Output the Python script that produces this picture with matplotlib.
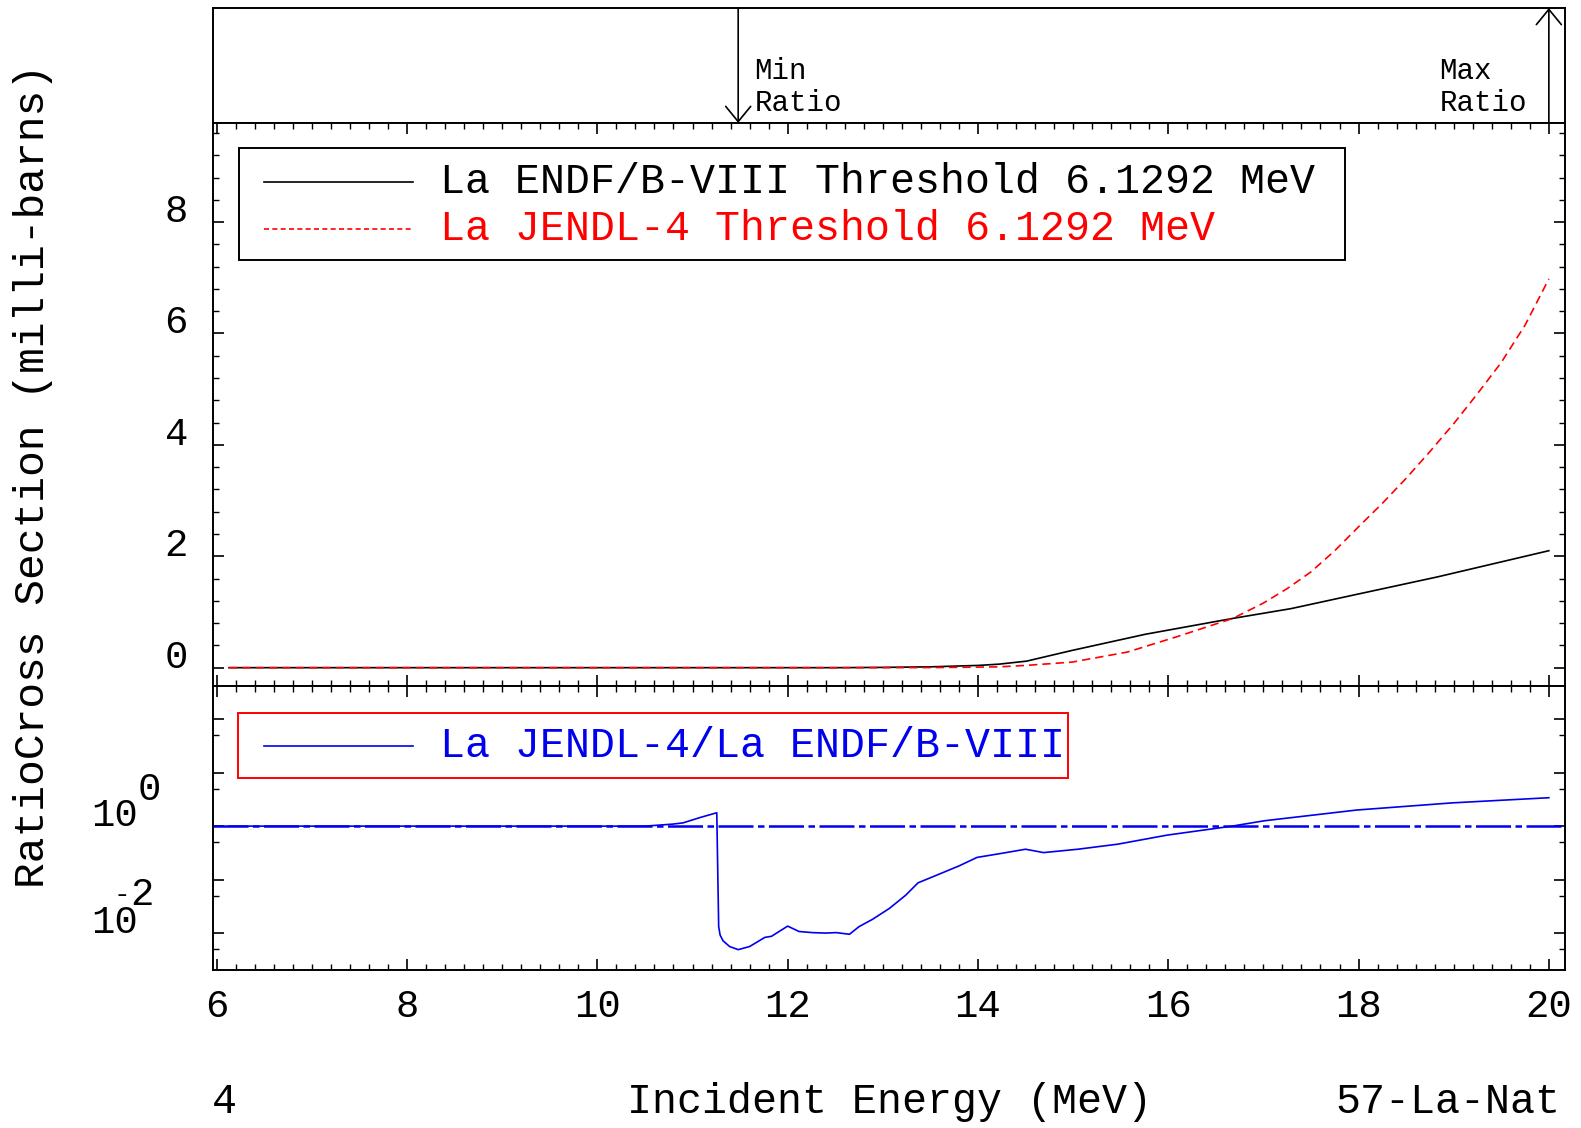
import numpy as np
import matplotlib
matplotlib.use('Agg')
import matplotlib.pyplot as plt
from matplotlib import rcParams
from matplotlib.patches import Rectangle
from matplotlib.lines import Line2D
from matplotlib.ticker import FixedLocator, MultipleLocator, NullFormatter

rcParams['font.family'] = ['Liberation Mono', 'DejaVu Sans Mono']
rcParams['font.size'] = 28
rcParams['axes.linewidth'] = 1.4
rcParams['xtick.direction'] = 'in'
rcParams['ytick.direction'] = 'in'
rcParams['xtick.major.size'] = 8
rcParams['ytick.major.size'] = 8
rcParams['xtick.minor.size'] = 4
rcParams['ytick.minor.size'] = 4
rcParams['xtick.major.width'] = 1.2
rcParams['ytick.major.width'] = 1.2
rcParams['xtick.minor.width'] = 1.0
rcParams['ytick.minor.width'] = 1.0

# ── data ─────────────────────────────────────────────────────────────────
endf_e  = [6.1292, 12.5, 13.0, 13.5, 14.0, 14.22, 14.51, 14.99, 15.76, 16.68,
           17.29, 17.91, 18.83, 20.0]
endf_xs = [0.0, 0.0, 0.005, 0.015, 0.04, 0.063, 0.117, 0.31, 0.60, 0.885,
           1.06, 1.29, 1.63, 2.10]

jendl_e  = [6.1292, 12.5, 13.0, 13.5, 14.0, 14.22, 14.5, 14.99, 15.57, 16.08,
            16.68, 17.0, 17.25, 17.5, 17.75, 18.0, 18.25, 18.5, 18.75, 19.0,
            19.25, 19.5, 19.75, 20.0]
jendl_xs = [0.0, 0.0, 0.0004, 0.0015, 0.01, 0.015, 0.04, 0.10, 0.28, 0.55,
            0.885, 1.16, 1.42, 1.72, 2.10, 2.53, 2.95, 3.40, 3.88, 4.38,
            4.92, 5.48, 6.15, 6.98]

ratio_e = [6.1292, 10.5, 10.79, 10.90, 11.08, 11.255, 11.275, 11.29, 11.32, 11.39,
           11.48, 11.60, 11.76, 11.83, 12.0, 12.12, 12.26, 12.40, 12.51, 12.65,
           12.75, 12.89, 13.07, 13.24, 13.37, 13.59, 13.8, 13.99, 14.25, 14.50,
           14.69, 15.05, 15.47, 15.99, 16.67, 17.01, 17.98, 18.98, 20.0]
ratio_v = [1.0, 1.0, 1.09, 1.15, 1.45, 1.78, 0.0132, 0.0092, 0.0072, 0.0056,
           0.0049, 0.0056, 0.0083, 0.0087, 0.0135, 0.0107, 0.0102, 0.0100, 0.0102, 0.0095,
           0.0132, 0.018, 0.029, 0.051, 0.087, 0.126, 0.18, 0.26, 0.31, 0.37,
           0.32, 0.37, 0.46, 0.68, 1.0, 1.26, 2.0, 2.72, 3.4]

min_ratio_e = 11.48
max_ratio_e = 20.0

xs_ticks    = [0, 2, 4, 6, 8]
e_ticks     = [6, 8, 10, 12, 14, 16, 18, 20]
ratio_major = [1e-3, 1e-2, 1e-1, 1e0, 1e1, 1e2, 1e3]
ratio_minor = [5e-3, 5e-2, 5e-1, 5e0, 5e1, 5e2]

XLIM = (5.96, 20.17)

# ── figure ───────────────────────────────────────────────────────────────
fig = plt.figure(figsize=(15.81, 11.28), dpi=100, facecolor='white')
L, W = 0.1347, 0.8552
ax_top = fig.add_axes([L, 0.8910, W, 0.1019])
ax_xs  = fig.add_axes([L, 0.3918, W, 0.4992])
ax_r   = fig.add_axes([L, 0.1401, W, 0.2517])

# top panel: min / max ratio arrows
ax_top.set_xlim(*XLIM)
ax_top.set_ylim(0, 1)
ax_top.set_xticks([])
ax_top.set_yticks([])
arrow = dict(arrowstyle='->,head_length=0.55,head_width=0.45', lw=1.2,
             color='black', mutation_scale=20, shrinkA=0, shrinkB=0)
ax_top.annotate('', xy=(min_ratio_e, 0.0), xytext=(min_ratio_e, 1.0), arrowprops=arrow)
ax_top.annotate('', xy=(max_ratio_e, 1.0), xytext=(max_ratio_e, 0.0), arrowprops=arrow)
ax_top.text(11.65, 0.456, 'Min', fontsize=21, ha='left', va='center')
ax_top.text(11.65, 0.175, 'Ratio', fontsize=21, ha='left', va='center')
ax_top.text(18.85, 0.456, 'Max', fontsize=21, ha='left', va='center')
ax_top.text(18.85, 0.175, 'Ratio', fontsize=21, ha='left', va='center')

# middle panel: cross sections
ax_xs.plot(endf_e, endf_xs, color='black', lw=1.2)
ax_xs.plot(jendl_e, jendl_xs, color='red', lw=1.2, linestyle=(0, (5, 3)))
ax_xs.set_xlim(*XLIM)
ax_xs.set_ylim(-0.33, 9.78)
ax_xs.set_yticks(xs_ticks)
ax_xs.yaxis.set_minor_locator(MultipleLocator(0.4))
ax_xs.xaxis.set_major_locator(FixedLocator(e_ticks))
ax_xs.xaxis.set_minor_locator(MultipleLocator(0.2))
ax_xs.tick_params(which='both', top=True, right=True, bottom=True, left=True,
                  labelbottom=False)
ax_xs.tick_params(axis='y', pad=18, labelsize=28)
for lab in ax_xs.get_yticklabels():
    lab.set_va('baseline')

# legend box 1
ax_xs.add_patch(Rectangle((0.0192, 0.7567), 0.818, 0.1989, transform=ax_xs.transAxes,
                          fill=False, edgecolor='black', lw=1.4, zorder=5))
ax_xs.add_line(Line2D([0.0377, 0.1479], [0.896, 0.896], transform=ax_xs.transAxes,
                      color='black', lw=1.2))
ax_xs.add_line(Line2D([0.0377, 0.1479], [0.812, 0.812], transform=ax_xs.transAxes,
                      color='red', lw=1.2, linestyle=(0, (3, 2))))
ax_xs.text(0.168, 0.896, 'La ENDF/B-VIII Threshold 6.1292 MeV', transform=ax_xs.transAxes,
           fontsize=30, color='black', ha='left', va='center')
ax_xs.text(0.168, 0.812, 'La JENDL-4 Threshold 6.1292 MeV', transform=ax_xs.transAxes,
           fontsize=30, color='red', ha='left', va='center')

# bottom panel: ratio
ax_r.plot(ratio_e, ratio_v, color='#0000ee', lw=1.2)
ax_r.axhline(1.0, color='#0000ee', lw=1.8, linestyle=(0, (14, 1.8, 2.6, 1.8)))
ax_r.set_yscale('log')
ax_r.set_xlim(*XLIM)
ax_r.set_ylim(10 ** -2.69, 10 ** 2.62)
ax_r.yaxis.set_major_locator(FixedLocator(ratio_major))
ax_r.yaxis.set_minor_locator(FixedLocator(ratio_minor))
ax_r.yaxis.set_major_formatter(NullFormatter())
ax_r.yaxis.set_minor_formatter(NullFormatter())
ax_r.xaxis.set_major_locator(FixedLocator(e_ticks))
ax_r.xaxis.set_minor_locator(MultipleLocator(0.2))
ax_r.tick_params(which='both', top=True, right=True, bottom=True, left=True)
ax_r.tick_params(axis='x', pad=14, labelsize=28)

yax = ax_r.get_yaxis_transform()
ax_r.text(-0.0555, 1.0, '10', transform=yax, ha='right', va='baseline', fontsize=28)
ax_r.text(-0.0555, 10 ** 0.486, '0', transform=yax, ha='left', va='baseline', fontsize=28)
ax_r.text(-0.0555, 1e-2, '10', transform=yax, ha='right', va='baseline', fontsize=28)
ax_r.text(-0.0614, 10 ** -1.477, '2', transform=yax, ha='left', va='baseline', fontsize=28)
ax_r.text(-0.0614, 10 ** -1.29, '-', transform=yax, ha='right', va='center', fontsize=20)

# legend box 2
ax_r.add_patch(Rectangle((0.0185, 0.676), 0.6139, 0.229, transform=ax_r.transAxes,
                         fill=False, edgecolor='red', lw=1.4, zorder=5))
ax_r.add_line(Line2D([0.0377, 0.1479], [0.789, 0.789], transform=ax_r.transAxes,
                     color='#0000ee', lw=1.2))
ax_r.text(0.168, 0.789, 'La JENDL-4/La ENDF/B-VIII', transform=ax_r.transAxes,
          fontsize=30, color='#0000ee', ha='left', va='center')

# figure-level labels
fig.text(0.021, 0.578, 'RatioCross Section (milli-barns)', rotation=90,
         ha='center', va='center', fontsize=31)
fig.text(0.1417, 0.023, '4', ha='center', va='center', fontsize=30)
fig.text(0.5625, 0.023, 'Incident Energy (MeV)', ha='center', va='center', fontsize=30)
fig.text(0.987, 0.023, '57-La-Nat', ha='right', va='center', fontsize=30)

fig.savefig('out.png', dpi=100, facecolor='white')
